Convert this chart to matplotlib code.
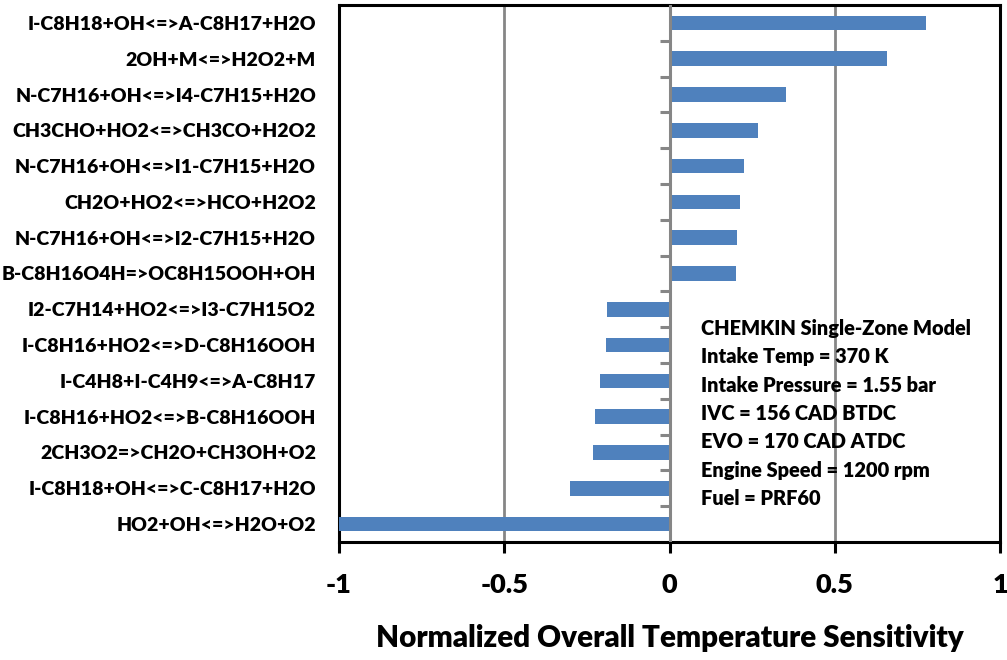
import numpy as np
import matplotlib.pyplot as plt

# reactions, top to bottom, and their normalized sensitivity
reactions = [
    'I-C8H18+OH<=>A-C8H17+H2O',
    '2OH+M<=>H2O2+M',
    'N-C7H16+OH<=>I4-C7H15+H2O',
    'CH3CHO+HO2<=>CH3CO+H2O2',
    'N-C7H16+OH<=>I1-C7H15+H2O',
    'CH2O+HO2<=>HCO+H2O2',
    'N-C7H16+OH<=>I2-C7H15+H2O',
    'B-C8H16O4H=>OC8H15OOH+OH',
    'I2-C7H14+HO2<=>I3-C7H15O2',
    'I-C8H16+HO2<=>D-C8H16OOH',
    'I-C4H8+I-C4H9<=>A-C8H17',
    'I-C8H16+HO2<=>B-C8H16OOH',
    '2CH3O2=>CH2O+CH3OH+O2',
    'I-C8H18+OH<=>C-C8H17+H2O',
    'HO2+OH<=>H2O+O2',
]
sensitivity = [0.775, 0.658, 0.352, 0.267, 0.225, 0.214, 0.203, 0.201,
               -0.188, -0.192, -0.209, -0.226, -0.231, -0.302, -1.0]
x_ticks = [-1, -0.5, 0, 0.5, 1]
x_ticklabels = ['-1', '-0.5', '0', '0.5', '1']

conditions = ['CHEMKIN Single-Zone Model',
              'Intake Temp = 370 K',
              'Intake Pressure = 1.55 bar',
              'IVC = 156 CAD BTDC',
              'EVO = 170 CAD ATDC',
              'Engine Speed = 1200 rpm',
              'Fuel = PRF60']

WT = 800
plt.rcParams['font.family'] = ['Lato', 'DejaVu Sans']
plt.rcParams['font.weight'] = WT

W, H = 1007, 660
fig = plt.figure(figsize=(W / 100, H / 100), dpi=100)
ax = fig.add_axes([339 / W, 1 - 542 / H, 661 / W, 537 / H])

grey = '#868686'
ypos = np.arange(len(reactions))
ax.barh(ypos, sensitivity, height=0.41, color='#4F81BD', zorder=3)

ax.set_xlim(-1, 1)
ax.set_ylim(len(reactions) - 0.5, -0.5)
ax.set_xticks(x_ticks)
ax.set_xticklabels(x_ticklabels, fontsize=19.5, fontweight=WT)
ax.tick_params(axis='x', direction='out', length=8, width=2.2, color='black', pad=14)
for g in [-0.5, 0.5]:
    ax.axvline(g, color=grey, lw=2.0, zorder=1)
ax.axvline(0, color=grey, lw=2.2, zorder=4)

ax.set_yticks(ypos)
ax.set_yticklabels(reactions, fontsize=14, fontweight=WT)
ax.tick_params(axis='y', length=0, pad=16.5)

for s in ax.spines.values():
    s.set_linewidth(2.2)
    s.set_color('black')

# category ticks drawn along x = 0
zero_axis = ax.secondary_yaxis(0.5)
zero_axis.yaxis.set_ticks_position('left')
zero_axis.set_yticks(np.arange(len(reactions) + 1) - 0.5)
zero_axis.set_yticklabels([])
zero_axis.tick_params(axis='y', which='both', direction='out', length=7, width=2.2,
                      color=grey, left=True, right=False)
for s in zero_axis.spines.values():
    s.set_visible(False)

ax.set_xlabel('Normalized Overall Temperature Sensitivity', fontsize=21.3,
              fontweight=WT, labelpad=20)

ax.text(0.548, 0.415, '\n'.join(conditions), transform=ax.transAxes,
        fontsize=14.4, fontweight=WT, va='top', ha='left', linespacing=1.58)

fig.savefig('out.png', dpi=100)
